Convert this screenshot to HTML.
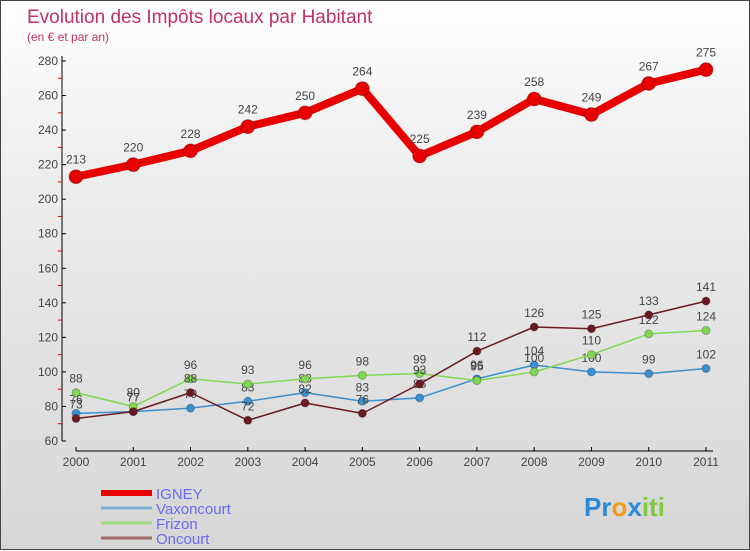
<!DOCTYPE html>
<html><head><meta charset="utf-8"><style>
body{margin:0;width:750px;height:550px;overflow:hidden;font-family:"Liberation Sans",sans-serif}
#wrap{position:relative;width:748px;height:548px;border:1px solid #444;background:linear-gradient(#fff 0%,#eee 30%,#d6d6d6 100%)}
svg{position:absolute;left:0;top:0}
</style></head><body>
<div id="wrap">
<svg id="chart" width="750" height="550">
<text x="26" y="22" font-size="19" fill="#c0306a">Evolution des Impôts locaux par Habitant</text>
<text x="26" y="40" font-size="12" fill="#c0306a">(en € et par an)</text>
</svg>
</div>
<script>
const years=["2000","2001","2002","2003","2004","2005","2006","2007","2008","2009","2010","2011"];
const yTicks=[60,80,100,120,140,160,180,200,220,240,260,280];
const igney=[213,220,228,242,250,264,225,239,258,249,267,275];
const vaxoncourt=[76,77,79,83,88,83,85,96,104,100,99,102];
const frizon=[88,80,96,93,96,98,99,95,100,110,122,124];
const oncourt=[73,77,88,72,82,76,93,112,126,125,133,141];
const NS="http://www.w3.org/2000/svg";
const svg=document.getElementById('chart');
const x=i=>75+i*(630/11);
const y=v=>440-(v-60)*380/220;
function mk(t,a,p){const e=document.createElementNS(NS,t);for(const k in a)e.setAttribute(k,a[k]);(p||svg).appendChild(e);return e;}
// axes
const ya=mk('line',{x1:61,y1:55,x2:61,y2:440,stroke:'#000','stroke-width':1});


const xa=mk('line',{x1:75,y1:450,x2:712,y2:450,stroke:'#000','stroke-width':1});


yTicks.forEach(v=>{
 mk('line',{x1:61,y1:y(v),x2:65,y2:y(v),stroke:'#000'});
 if(v<280) mk('line',{x1:57,y1:y(v+10),x2:61,y2:y(v+10),stroke:'#e00'});
 const t=mk('text',{x:57,y:y(v)+4,'font-size':12,fill:'#444','text-anchor':'end'});t.textContent=v;
 
 
});
years.forEach((yr,i)=>{
 mk('line',{x1:x(i),y1:446,x2:x(i),y2:450,stroke:'#000'});
 const t=mk('text',{x:x(i),y:465,'font-size':12,fill:'#444','text-anchor':'middle'});t.textContent=yr;
 
 
});
function series(vals,color,w,r,name){
 const g=mk('g',{});
 
 
 mk('polyline',{points:vals.map((v,i)=>x(i)+','+y(v)).join(' '),fill:'none',stroke:color,'stroke-width':w,'stroke-linejoin':'round'},g);
 vals.forEach((v,i)=>{
  const c=mk('circle',{cx:x(i),cy:y(v),r:r,fill:color,stroke:'rgba(0,0,0,0.25)'},g);
  
  
  const t=mk('text',{x:x(i),y:y(v)-(r+6),'font-size':12,fill:'#444','text-anchor':'middle'},g);t.textContent=v;
 });
}
series(vaxoncourt,'#3a90d0',1.5,4,'vaxoncourt');
series(frizon,'#80d850',1.5,4,'frizon');
series(oncourt,'#6a1a20',1.5,4,'oncourt');
series(igney,'#e80000',8,7,'igney');
// legend
const leg=[['IGNEY','#e80000',6],['Vaxoncourt','#7fb0d8',3],['Frizon','#a0dc80',3],['Oncourt','#a06868',3]];
leg.forEach((l,i)=>{
 const yy=492+i*15;
 const g=mk('g',{});
 
 
 mk('line',{x1:100,y1:yy,x2:151,y2:yy,stroke:l[1],'stroke-width':l[2]},g);
 const t=mk('text',{x:155,y:yy+6,'font-size':15,fill:'#6a6af0'},g);t.textContent=l[0];
});
const logo=mk('text',{x:583,y:515,'font-size':26,'font-weight':'bold',fill:'#f39a1e'});
logo.innerHTML='<tspan fill="#2a8ad8">Pr</tspan><tspan fill="#f39a1e">o</tspan><tspan fill="#2a8ad8">x</tspan><tspan fill="#80c840">iti</tspan>';


</script>
</body></html>
